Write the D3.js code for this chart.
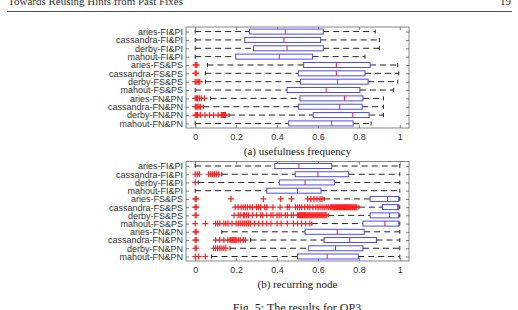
<!DOCTYPE html>
<html>
<head>
<meta charset="utf-8">
<script src="https://cdn.jsdelivr.net/npm/d3@7"></script>
<style>
  body { margin: 0; background: #fff; }
  svg { display: block; }
</style>
</head>
<body>
<div class="chartContainer"></div>
<script>
// Row labels (same for both panels, top to bottom)
const ROWS = [
  "aries-FI&PI", "cassandra-FI&PI", "derby-FI&PI", "mahout-FI&PI",
  "aries-FS&PS", "cassandra-FS&PS", "derby-FS&PS", "mahout-FS&PS",
  "aries-FN&PN", "cassandra-FN&PN", "derby-FN&PN", "mahout-FN&PN"
];
const X_TICKS = [0, 0.2, 0.4, 0.6, 0.8, 1];

// (a) usefulness frequency
const aLow = [0, 0, 0, 0, 0.06, 0.05, 0.05, 0, 0.075, 0.04, 0.165, 0];
const aQ1 = [0.265, 0.242, 0.285, 0.198, 0.53, 0.504, 0.515, 0.449, 0.512, 0.504, 0.577, 0.457];
const aMed = [0.44, 0.434, 0.449, 0.411, 0.69, 0.69, 0.696, 0.64, 0.73, 0.707, 0.77, 0.667];
const aQ3 = [0.626, 0.613, 0.626, 0.574, 0.855, 0.83, 0.845, 0.805, 0.82, 0.816, 0.85, 0.772];
const aHigh = [0.88, 0.9, 0.9, 0.83, 0.99, 0.995, 0.99, 0.97, 0.92, 0.92, 0.92, 0.86];
const aOut = [
  [], [], [], [],
  [0, 0.004, 0.008],
  [0, 0.005],
  [0, 0.008, 0.015, 0.022],
  [],
  [0, 0.006, 0.012, 0.02, 0.03, 0.045],
  [0, 0.005, 0.01, 0.018, 0.025],
  [0, 0.006, 0.012, 0.025, 0.048, 0.07, 0.09, 0.112, 0.128, 0.133, 0.138, 0.143, 0.148],
  []
];

// (b) recurring node
const bLow = [0, 0.13, 0.015, 0, 0.63, 0.8, 0.65, 0.57, 0.13, 0.27, 0.17, 0.08];
const bQ1 = [0.389, 0.489, 0.411, 0.35, 0.855, 0.915, 0.855, 0.82, 0.537, 0.63, 0.555, 0.5];
const bMed = [0.507, 0.6, 0.537, 0.5, 0.94, 0.99, 0.95, 0.927, 0.694, 0.756, 0.686, 0.645];
const bQ3 = [0.667, 0.75, 0.68, 0.615, 0.995, 0.995, 0.995, 0.995, 0.826, 0.886, 0.82, 0.797];
const bHigh = [1, 1, 1, 1, 1, 1, 1, 1, 1, 1, 1, 1];
const bOut = [
  [],
  [0, 0.01, 0.02, 0.065, 0.075, 0.085, 0.095, 0.105, 0.115],
  [0],
  [],
  [0, 0.005, 0.175, 0.333, 0.418, 0.47, 0.55, 0.565, 0.58, 0.595, 0.61, 0.62],
  [0, 0.005, 0.195, 0.21, 0.225, 0.235, 0.245, 0.255, 0.268, 0.28, 0.3, 0.31, 0.32, 0.34,
   0.35, 0.38, 0.415, 0.45, 0.46, 0.49, 0.5, 0.51, 0.52, 0.535, 0.55, 0.56, 0.575, 0.59,
   0.6, 0.61, 0.62, 0.63, 0.64, 0.65, 0.66, 0.665, 0.67, 0.675, 0.68, 0.685, 0.69, 0.695,
   0.7, 0.705, 0.71, 0.715, 0.72, 0.725, 0.73, 0.735, 0.74, 0.745, 0.75, 0.755, 0.76,
   0.765, 0.77, 0.775, 0.78, 0.785, 0.79],
  [0, 0.005, 0.19, 0.21, 0.22, 0.235, 0.24, 0.25, 0.26, 0.28, 0.3, 0.32, 0.33, 0.35, 0.37,
   0.38, 0.4, 0.41, 0.42, 0.44, 0.45, 0.47, 0.48, 0.5, 0.505, 0.51, 0.515, 0.52, 0.525,
   0.53, 0.535, 0.54, 0.545, 0.55, 0.555, 0.56, 0.565, 0.57, 0.575, 0.58, 0.585, 0.59,
   0.595, 0.6, 0.605, 0.61, 0.615, 0.62, 0.625, 0.63, 0.635, 0.64],
  [0, 0.05, 0.1, 0.11, 0.12, 0.14, 0.15, 0.16, 0.18, 0.2, 0.21, 0.22, 0.23, 0.24, 0.25,
   0.26, 0.27, 0.29, 0.31, 0.33, 0.35, 0.37, 0.4, 0.42, 0.45, 0.48, 0.5, 0.52, 0.54, 0.56],
  [0, 0.005],
  [0, 0.005, 0.1, 0.12, 0.14, 0.16, 0.17, 0.175, 0.18, 0.185, 0.19, 0.195, 0.2, 0.21, 0.22,
   0.235, 0.245],
  [0, 0.005, 0.09, 0.1, 0.11, 0.12, 0.13, 0.14, 0.15],
  [0, 0.016, 0.049]
];

const W = 518;
const H = 310;
const BLUE = "#4b4bf0";
const RED = "#ff2020";
const FRAME = "#666";

const svg = d3
  .select(".chartContainer")
  .append("svg")
  .attr("width", W)
  .attr("height", H);

// Page header
svg
  .append("text")
  .attr("x", 8)
  .attr("y", 5)
  .style("font-family", "Liberation Serif, serif")
  .style("font-size", "11px")
  .style("fill", "#333")
  .text("Towards Reusing Hints from Past Fixes");
svg
  .append("text")
  .attr("x", 511)
  .attr("y", 5)
  .attr("text-anchor", "end")
  .style("font-family", "Liberation Serif, serif")
  .style("font-size", "11px")
  .style("fill", "#333")
  .text("19");
svg
  .append("line")
  .attr("x1", 7)
  .attr("x2", 512)
  .attr("y1", 11.5)
  .attr("y2", 11.5)
  .attr("stroke", "#222")
  .attr("stroke-width", 0.8);

// x scale shared by both panels (frame runs a bit past 0 and 1)
var x = d3.scaleLinear().domain([-0.045, 1.045]).range([186, 409]);

function drawPanel(top, bottom, low, q1, med, q3, high, out, caption) {
  var y = d3.scalePoint().domain(ROWS).range([top, bottom]).padding(0.55);
  var g = svg.append("g");
  var bh = 5;

  // frame
  g.append("rect")
    .attr("x", x.range()[0])
    .attr("y", top)
    .attr("width", x.range()[1] - x.range()[0])
    .attr("height", bottom - top)
    .attr("fill", "none")
    .attr("stroke", FRAME)
    .attr("stroke-width", 0.8);

  // axes (ticks point inward)
  var xb = g.append("g")
    .attr("transform", "translate(0," + bottom + ")")
    .call(d3.axisBottom(x).tickValues(X_TICKS).tickSize(-3).tickPadding(6)
      .tickFormat((d) => (d === 0 || d === 1 ? d3.format("d")(d) : d3.format(".1f")(d))));
  var xt = g.append("g")
    .attr("transform", "translate(0," + top + ")")
    .call(d3.axisTop(x).tickValues(X_TICKS).tickSize(-3).tickFormat(""));
  var yl = g.append("g")
    .attr("transform", "translate(" + x.range()[0] + ",0)")
    .call(d3.axisLeft(y).tickSize(-3).tickPadding(3));
  var yr = g.append("g")
    .attr("transform", "translate(" + x.range()[1] + ",0)")
    .call(d3.axisRight(y).tickSize(-3).tickFormat(""));
  [xb, xt, yl, yr].forEach((a) => {
    a.select(".domain").remove();
    a.selectAll("line").attr("stroke", FRAME).attr("stroke-width", 0.8);
    a.selectAll("text")
      .style("font-family", "Liberation Sans, Arial, sans-serif")
      .style("font-size", "9px")
      .style("fill", "#333");
  });

  var rows = g.selectAll("g.row")
    .data(ROWS)
    .enter()
    .append("g")
    .attr("class", "row");

  // whiskers
  rows.append("line")
    .attr("x1", (d, i) => x(low[i]))
    .attr("x2", (d, i) => x(q1[i]))
    .attr("y1", (d) => y(d))
    .attr("y2", (d) => y(d))
    .attr("stroke", "#222")
    .attr("stroke-dasharray", "6,4");
  rows.append("line")
    .attr("x1", (d, i) => x(q3[i]))
    .attr("x2", (d, i) => x(high[i]))
    .attr("y1", (d) => y(d))
    .attr("y2", (d) => y(d))
    .attr("stroke", "#222")
    .attr("stroke-dasharray", "6,4");
  // whisker caps
  rows.append("line")
    .attr("x1", (d, i) => x(low[i]))
    .attr("x2", (d, i) => x(low[i]))
    .attr("y1", (d) => y(d) - 2)
    .attr("y2", (d) => y(d) + 2)
    .attr("stroke", "#222");
  rows.append("line")
    .attr("x1", (d, i) => x(high[i]))
    .attr("x2", (d, i) => x(high[i]))
    .attr("y1", (d) => y(d) - 2)
    .attr("y2", (d) => y(d) + 2)
    .attr("stroke", "#222");

  // boxes
  rows.append("rect")
    .attr("x", (d, i) => x(q1[i]))
    .attr("y", (d) => y(d) - bh / 2)
    .attr("width", (d, i) => x(q3[i]) - x(q1[i]))
    .attr("height", bh)
    .attr("fill", "#fff")
    .attr("stroke", BLUE)
    .attr("stroke-width", 1);
  // medians
  rows.append("line")
    .attr("x1", (d, i) => x(med[i]))
    .attr("x2", (d, i) => x(med[i]))
    .attr("y1", (d) => y(d) - bh / 2)
    .attr("y2", (d) => y(d) + bh / 2)
    .attr("stroke", RED)
    .attr("stroke-width", 1);

  // outliers as "+"
  rows.selectAll("path.out")
    .data((d, i) => out[i].map((v) => ({ row: d, v: v })))
    .enter()
    .append("path")
    .attr("class", "out")
    .attr("d", (o) => {
      var cx = x(o.v), cy = y(o.row);
      return "M" + (cx - 3) + "," + cy + "H" + (cx + 3) + "M" + cx + "," + (cy - 3) + "V" + (cy + 3);
    })
    .attr("stroke", RED)
    .attr("stroke-width", 1.2)
    .attr("fill", "none");

  // caption
  svg.append("text")
    .attr("x", (x.range()[0] + x.range()[1]) / 2)
    .attr("y", bottom + 27)
    .attr("text-anchor", "middle")
    .style("font-family", "Liberation Serif, serif")
    .style("font-size", "11px")
    .style("fill", "#222")
    .text(caption);
}

drawPanel(27, 128, aLow, aQ1, aMed, aQ3, aHigh, aOut, "(a) usefulness frequency");
drawPanel(161.5, 261, bLow, bQ1, bMed, bQ3, bHigh, bOut, "(b) recurring node");

// figure caption (cut off by the page edge)
svg.append("text")
  .attr("x", 297)
  .attr("y", 312)
  .attr("text-anchor", "middle")
  .style("font-family", "Liberation Serif, serif")
  .style("font-size", "12px")
  .style("fill", "#222")
  .text("Fig. 5: The results for OP3");
</script>
</body>
</html>
